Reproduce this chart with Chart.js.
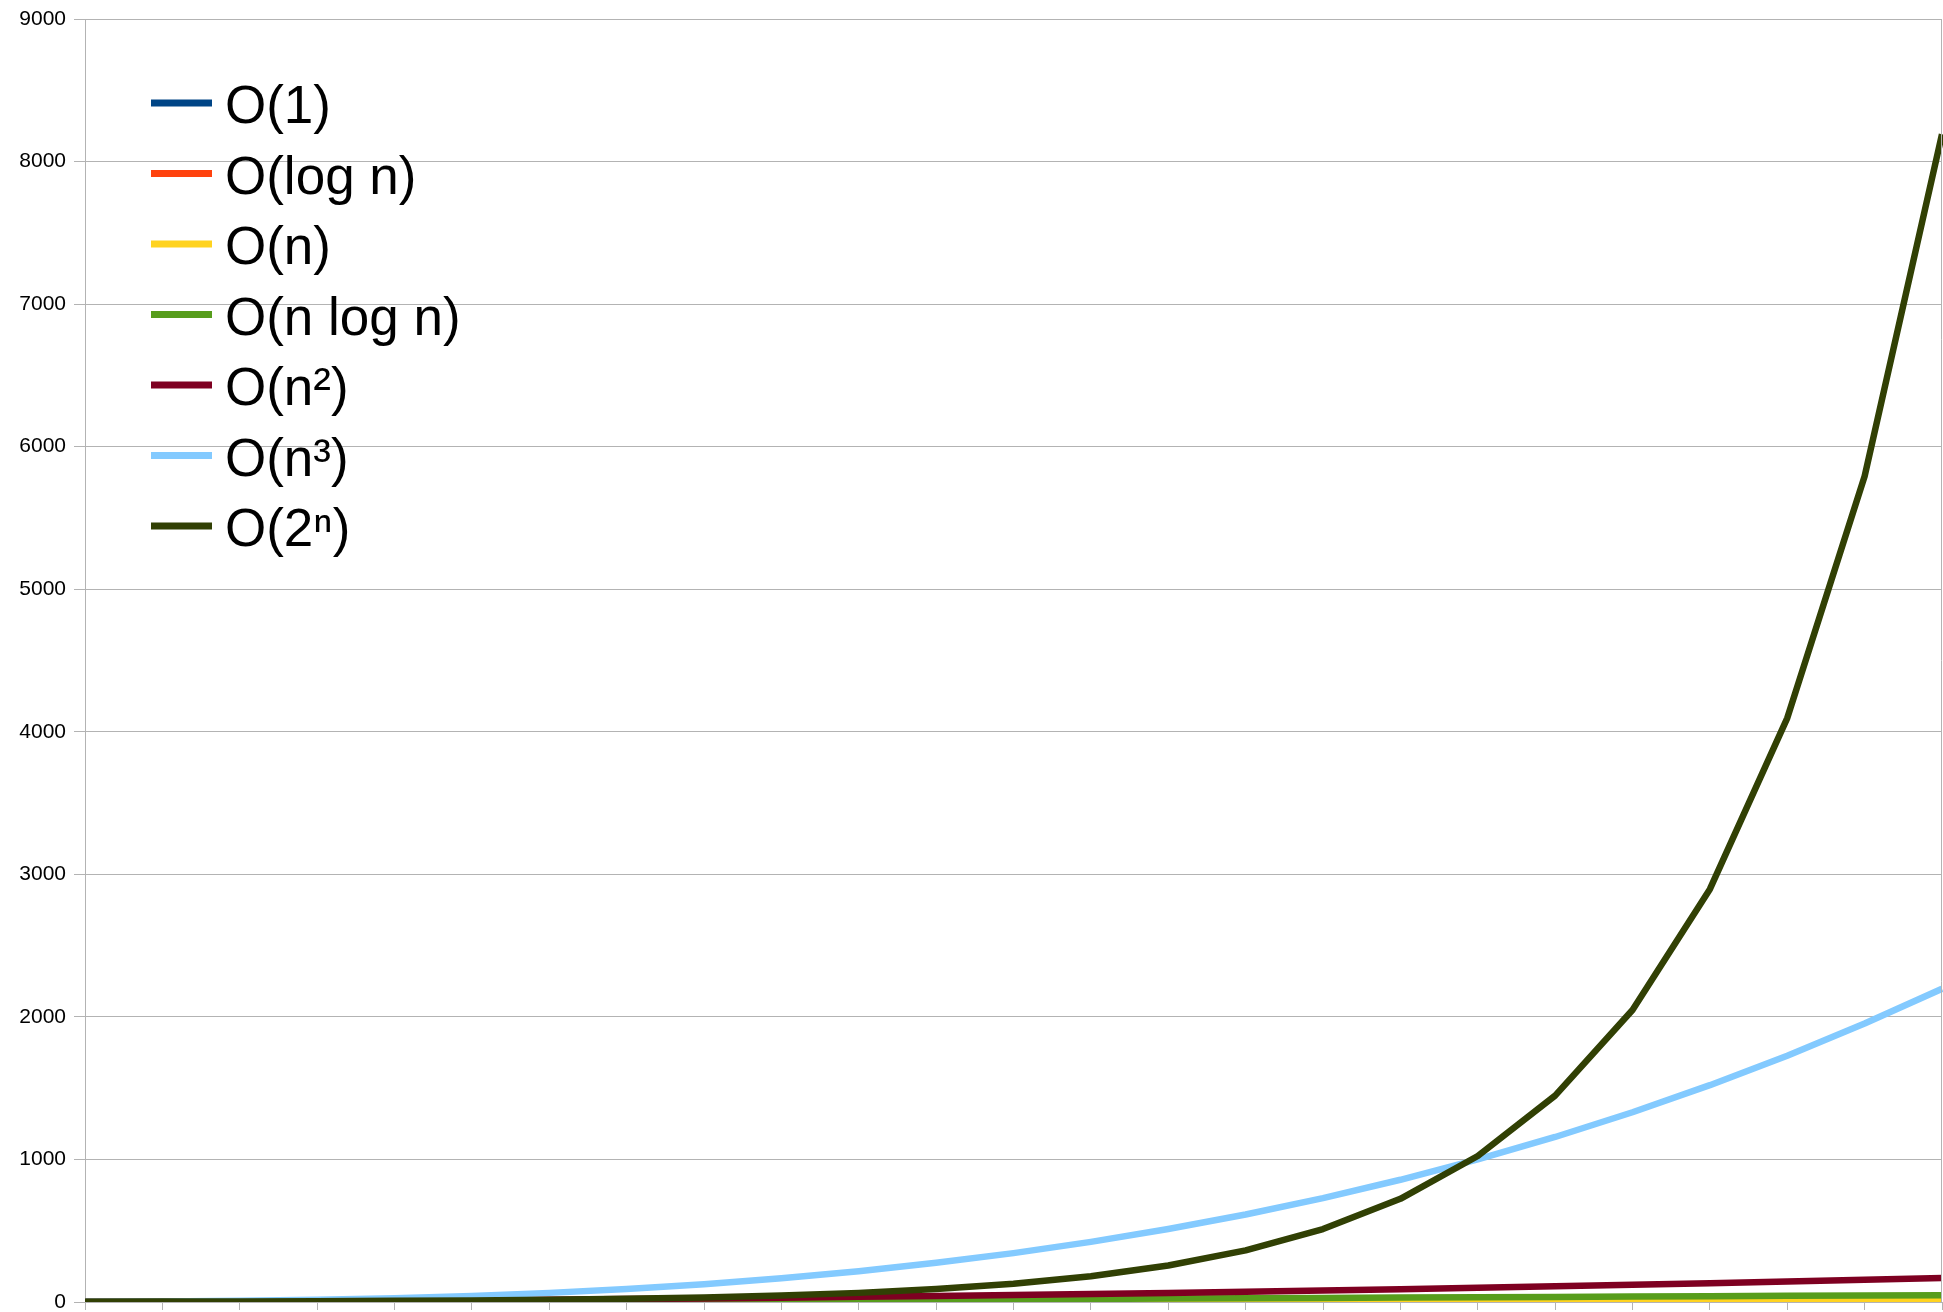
<!DOCTYPE html>
<html lang="en">
<head>
    <meta charset="UTF-8">
    <title>Complexity growth</title>
    <script src="https://cdn.jsdelivr.net/npm/chart.js"></script>
    <style>
        html, body { margin: 0; padding: 0; background: #fff; }
        canvas { display: block; }
    </style>
</head>
<body>
    <canvas id="growthChart" width="1943" height="1312"></canvas>

    <script>
        // n from 1 to 13 in half steps (axis labels are not shown)
        const nLabels = ['1', '1.5', '2', '2.5', '3', '3.5', '4', '4.5', '5', '5.5', '6', '6.5', '7',
                         '7.5', '8', '8.5', '9', '9.5', '10', '10.5', '11', '11.5', '12', '12.5', '13'];

        const constant = [1, 1, 1, 1, 1, 1, 1, 1, 1, 1, 1, 1, 1, 1, 1, 1, 1, 1, 1, 1, 1, 1, 1, 1, 1];
        const logN = [0, 0.58, 1, 1.32, 1.58, 1.81, 2, 2.17, 2.32, 2.46, 2.58, 2.7, 2.81,
                      2.91, 3, 3.09, 3.17, 3.25, 3.32, 3.39, 3.46, 3.52, 3.58, 3.64, 3.7];
        const linear = [1, 1.5, 2, 2.5, 3, 3.5, 4, 4.5, 5, 5.5, 6, 6.5, 7,
                        7.5, 8, 8.5, 9, 9.5, 10, 10.5, 11, 11.5, 12, 12.5, 13];
        const nLogN = [0, 0.88, 2, 3.3, 4.75, 6.33, 8, 9.76, 11.6, 13.5, 15.5, 17.6, 19.7,
                       21.8, 24, 26.2, 28.5, 30.9, 33.2, 35.6, 38.1, 40.5, 43, 45.5, 48.1];
        const squared = [1, 2.25, 4, 6.25, 9, 12.25, 16, 20.25, 25, 30.25, 36, 42.25, 49,
                         56.25, 64, 72.25, 81, 90.25, 100, 110.25, 121, 132.25, 144, 156.25, 169];
        const cubed = [1, 3.4, 8, 15.6, 27, 42.9, 64, 91.1, 125, 166.4, 216, 274.6, 343,
                       421.9, 512, 614.1, 729, 857.4, 1000, 1157.6, 1331, 1520.9, 1728, 1953.1, 2197];
        const exponential = [2, 2.8, 4, 5.7, 8, 11.3, 16, 22.6, 32, 45.3, 64, 90.5, 128,
                             181, 256, 362, 512, 724, 1024, 1448, 2048, 2896, 4096, 5793, 8192];

        const seriesNames = ['O(1)', 'O(log n)', 'O(n)', 'O(n log n)', 'O(n²)', 'O(n³)', 'O(2ⁿ)'];
        const seriesData = [constant, logN, linear, nLogN, squared, cubed, exponential];
        const seriesColors = ['#004586', '#ff420e', '#ffd320', '#579d1c', '#7e0021', '#83caff', '#314004'];

        const yTicks = { min: 0, max: 9000, step: 1000 };

        const gridGray = '#b3b3b3';
        const fontFamily = '"Liberation Sans", Arial, sans-serif';

        // later series sit on top of earlier ones
        const datasets = seriesNames.map((name, i) => ({
            label: name,
            data: seriesData[i],
            borderColor: seriesColors[i],
            backgroundColor: seriesColors[i],
            borderWidth: 6.5,
            borderJoinStyle: 'round',
            pointRadius: 0,
            tension: 0,
            fill: false,
            order: seriesNames.length - i
        }));

        // frame on the right side and the legend inside the plot
        const framePlugin = {
            id: 'frameAndLegend',
            afterDraw(chart) {
                const { ctx, chartArea } = chart;
                ctx.save();
                ctx.strokeStyle = gridGray;
                ctx.lineWidth = 1;
                ctx.beginPath();
                ctx.moveTo(chartArea.right - 0.5, chartArea.top);
                ctx.lineTo(chartArea.right - 0.5, chartArea.bottom);
                ctx.stroke();

                const lineX = chartArea.left + 66;
                const lineLen = 61;
                const firstY = chartArea.top + 84;
                const rowGap = 70.5;
                ctx.font = '53px ' + fontFamily;
                ctx.textBaseline = 'alphabetic';
                ctx.textAlign = 'left';
                seriesNames.forEach((name, i) => {
                    const y = firstY + i * rowGap;
                    ctx.strokeStyle = seriesColors[i];
                    ctx.lineWidth = 7;
                    ctx.lineCap = 'butt';
                    ctx.beginPath();
                    ctx.moveTo(lineX, y);
                    ctx.lineTo(lineX + lineLen, y);
                    ctx.stroke();
                    ctx.fillStyle = '#000';
                    ctx.fillText(name, lineX + lineLen + 13, y + 20);
                });
                ctx.restore();
            }
        };

        new Chart(document.getElementById('growthChart').getContext('2d'), {
            type: 'line',
            data: { labels: nLabels, datasets: datasets },
            options: {
                responsive: false,
                animation: false,
                layout: { padding: { top: 19, right: 1, left: 0, bottom: 0 } },
                plugins: {
                    legend: { display: false },
                    tooltip: { enabled: false }
                },
                scales: {
                    x: {
                        offset: false,
                        ticks: { display: false },
                        grid: { drawOnChartArea: false, drawTicks: true, tickLength: 8, color: gridGray },
                        border: { color: gridGray },
                        afterFit: scale => { scale.height = 10; }
                    },
                    y: {
                        min: yTicks.min,
                        max: yTicks.max,
                        ticks: {
                            stepSize: yTicks.step,
                            color: '#000',
                            padding: 8,
                            font: { family: fontFamily, size: 21 },
                            callback: value => String(value)
                        },
                        grid: { color: gridGray, tickLength: 11 },
                        border: { color: gridGray },
                        afterFit: scale => {
                            scale.width = 85;
                            scale.paddingTop = 0;
                            scale.paddingBottom = 0;
                        }
                    }
                }
            },
            plugins: [framePlugin]
        });
    </script>
</body>
</html>
